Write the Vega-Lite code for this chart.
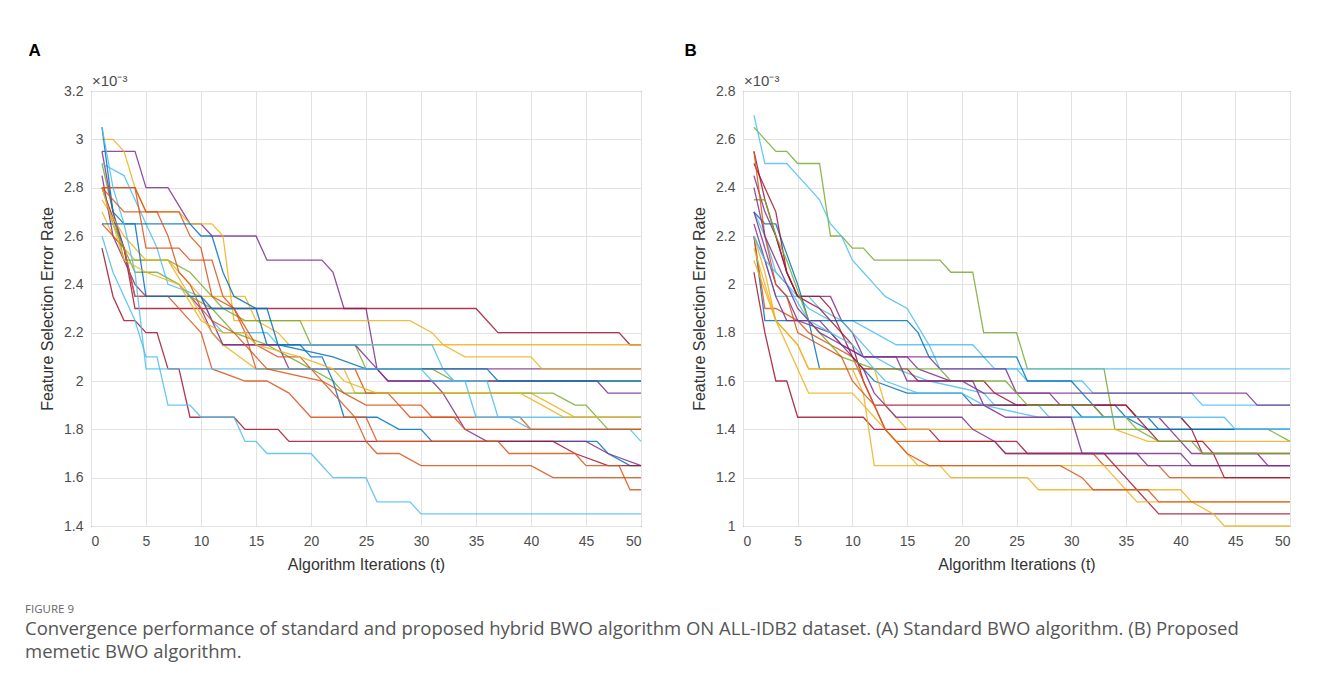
{
"$schema": "https://vega.github.io/schema/vega-lite/v6.json",
"background": "white",
"padding": {"left": 25, "top": 41, "right": 20, "bottom": 10},
"config": {
  "font": "Liberation Sans",
  "view": {"stroke": "#404040", "strokeWidth": 1},
  "axis": {"labelFont": "Liberation Sans", "labelFontSize": 14, "labelColor": "#4d4d4d", "titleFont": "Liberation Sans", "titleFontSize": 16, "titleFontWeight": "normal", "titleColor": "#333333", "gridColor": "#e2e2e2", "gridWidth": 1, "domain": false, "ticks": false, "labelPadding": 8, "titlePadding": 8},
  "concat": {"spacing": 39}
},
"title": {"text": "FIGURE 9", "subtitle": ["Convergence performance of standard and proposed hybrid BWO algorithm ON ALL-IDB2 dataset. (A) Standard BWO algorithm. (B) Proposed", "memetic BWO algorithm."], "orient": "bottom", "anchor": "start", "frame": "bounds", "font": "Open Sans", "fontSize": 11.5, "fontWeight": "normal", "color": "#666666", "subtitleFont": "Open Sans", "subtitleFontSize": 18.5, "subtitleColor": "#555555", "subtitleLineHeight": 23, "subtitlePadding": 5, "offset": 31, "dx": -3},
"datasets": {
"A": [
{"s":"a1","t":1,"v":2.95},{"s":"a1","t":4,"v":2.95},{"s":"a1","t":5,"v":2.8},{"s":"a1","t":7,"v":2.8},{"s":"a1","t":9,"v":2.65},{"s":"a1","t":10,"v":2.65},{"s":"a1","t":11,"v":2.6},{"s":"a1","t":15,"v":2.6},{"s":"a1","t":16,"v":2.5},{"s":"a1","t":21,"v":2.5},{"s":"a1","t":22,"v":2.45},{"s":"a1","t":23,"v":2.3},{"s":"a1","t":25,"v":2.3},{"s":"a1","t":26,"v":2.05},{"s":"a1","t":50,"v":2.05},
{"s":"a2","t":1,"v":2.8},{"s":"a2","t":3,"v":2.55},{"s":"a2","t":4,"v":2.3},{"s":"a2","t":35,"v":2.3},{"s":"a2","t":37,"v":2.2},{"s":"a2","t":48,"v":2.2},{"s":"a2","t":49,"v":2.15},{"s":"a2","t":50,"v":2.15},
{"s":"a3","t":1,"v":3.0},{"s":"a3","t":2,"v":3.0},{"s":"a3","t":3,"v":2.95},{"s":"a3","t":4,"v":2.8},{"s":"a3","t":5,"v":2.7},{"s":"a3","t":8,"v":2.7},{"s":"a3","t":9,"v":2.65},{"s":"a3","t":11,"v":2.65},{"s":"a3","t":12,"v":2.6},{"s":"a3","t":13,"v":2.25},{"s":"a3","t":29,"v":2.25},{"s":"a3","t":31,"v":2.2},{"s":"a3","t":32,"v":2.15},{"s":"a3","t":34,"v":2.1},{"s":"a3","t":40,"v":2.1},{"s":"a3","t":41,"v":2.05},{"s":"a3","t":50,"v":2.05},
{"s":"a4","t":1,"v":2.7},{"s":"a4","t":2,"v":2.6},{"s":"a4","t":3,"v":2.55},{"s":"a4","t":4,"v":2.5},{"s":"a4","t":7,"v":2.5},{"s":"a4","t":9,"v":2.4},{"s":"a4","t":10,"v":2.35},{"s":"a4","t":14,"v":2.35},{"s":"a4","t":15,"v":2.25},{"s":"a4","t":17,"v":2.2},{"s":"a4","t":18,"v":2.15},{"s":"a4","t":50,"v":2.15},
{"s":"a5","t":1,"v":2.9},{"s":"a5","t":2,"v":2.7},{"s":"a5","t":3,"v":2.5},{"s":"a5","t":7,"v":2.5},{"s":"a5","t":9,"v":2.45},{"s":"a5","t":10,"v":2.4},{"s":"a5","t":12,"v":2.3},{"s":"a5","t":14,"v":2.25},{"s":"a5","t":19,"v":2.25},{"s":"a5","t":20,"v":2.15},{"s":"a5","t":24,"v":2.15},{"s":"a5","t":25,"v":2.05},{"s":"a5","t":31,"v":2.05},{"s":"a5","t":33,"v":2.0},{"s":"a5","t":50,"v":2.0},
{"s":"a6","t":1,"v":2.95},{"s":"a6","t":2,"v":2.7},{"s":"a6","t":3,"v":2.55},{"s":"a6","t":4,"v":2.35},{"s":"a6","t":9,"v":2.35},{"s":"a6","t":10,"v":2.3},{"s":"a6","t":11,"v":2.2},{"s":"a6","t":12,"v":2.15},{"s":"a6","t":24,"v":2.15},{"s":"a6","t":26,"v":2.05},{"s":"a6","t":27,"v":2.0},{"s":"a6","t":46,"v":2.0},{"s":"a6","t":47,"v":1.95},{"s":"a6","t":50,"v":1.95},
{"s":"a7","t":1,"v":2.75},{"s":"a7","t":3,"v":2.6},{"s":"a7","t":5,"v":2.5},{"s":"a7","t":7,"v":2.5},{"s":"a7","t":9,"v":2.35},{"s":"a7","t":11,"v":2.2},{"s":"a7","t":12,"v":2.15},{"s":"a7","t":15,"v":2.05},{"s":"a7","t":23,"v":2.05},{"s":"a7","t":24,"v":1.95},{"s":"a7","t":40,"v":1.95},{"s":"a7","t":42,"v":1.9},{"s":"a7","t":44,"v":1.85},{"s":"a7","t":50,"v":1.85},
{"s":"a8","t":1,"v":2.8},{"s":"a8","t":2,"v":2.65},{"s":"a8","t":4,"v":2.45},{"s":"a8","t":6,"v":2.45},{"s":"a8","t":8,"v":2.4},{"s":"a8","t":9,"v":2.35},{"s":"a8","t":11,"v":2.3},{"s":"a8","t":13,"v":2.2},{"s":"a8","t":16,"v":2.15},{"s":"a8","t":18,"v":2.1},{"s":"a8","t":22,"v":2.0},{"s":"a8","t":23,"v":1.95},{"s":"a8","t":42,"v":1.95},{"s":"a8","t":44,"v":1.9},{"s":"a8","t":45,"v":1.9},{"s":"a8","t":47,"v":1.8},{"s":"a8","t":50,"v":1.8},
{"s":"a9","t":1,"v":2.8},{"s":"a9","t":4,"v":2.8},{"s":"a9","t":5,"v":2.7},{"s":"a9","t":8,"v":2.7},{"s":"a9","t":9,"v":2.6},{"s":"a9","t":10,"v":2.55},{"s":"a9","t":11,"v":2.35},{"s":"a9","t":13,"v":2.3},{"s":"a9","t":14,"v":2.2},{"s":"a9","t":15,"v":2.05},{"s":"a9","t":24,"v":2.05},{"s":"a9","t":25,"v":1.95},{"s":"a9","t":27,"v":1.95},{"s":"a9","t":28,"v":1.9},{"s":"a9","t":30,"v":1.9},{"s":"a9","t":31,"v":1.85},{"s":"a9","t":39,"v":1.85},{"s":"a9","t":40,"v":1.8},{"s":"a9","t":50,"v":1.8},
{"s":"a10","t":1,"v":2.9},{"s":"a10","t":3,"v":2.85},{"s":"a10","t":4,"v":2.75},{"s":"a10","t":6,"v":2.55},{"s":"a10","t":7,"v":2.4},{"s":"a10","t":10,"v":2.35},{"s":"a10","t":11,"v":2.25},{"s":"a10","t":12,"v":2.2},{"s":"a10","t":16,"v":2.2},{"s":"a10","t":17,"v":2.15},{"s":"a10","t":31,"v":2.15},{"s":"a10","t":32,"v":2.05},{"s":"a10","t":33,"v":2.0},{"s":"a10","t":36,"v":2.0},{"s":"a10","t":37,"v":1.85},{"s":"a10","t":38,"v":1.85},{"s":"a10","t":40,"v":1.8},{"s":"a10","t":49,"v":1.8},{"s":"a10","t":50,"v":1.75},
{"s":"a11","t":1,"v":3.05},{"s":"a11","t":2,"v":2.7},{"s":"a11","t":3,"v":2.65},{"s":"a11","t":9,"v":2.65},{"s":"a11","t":10,"v":2.6},{"s":"a11","t":11,"v":2.6},{"s":"a11","t":12,"v":2.45},{"s":"a11","t":13,"v":2.35},{"s":"a11","t":15,"v":2.3},{"s":"a11","t":16,"v":2.15},{"s":"a11","t":19,"v":2.15},{"s":"a11","t":20,"v":2.1},{"s":"a11","t":21,"v":2.1},{"s":"a11","t":22,"v":2.0},{"s":"a11","t":23,"v":1.85},{"s":"a11","t":26,"v":1.85},{"s":"a11","t":28,"v":1.8},{"s":"a11","t":30,"v":1.8},{"s":"a11","t":31,"v":1.75},{"s":"a11","t":46,"v":1.75},{"s":"a11","t":47,"v":1.7},{"s":"a11","t":49,"v":1.65},{"s":"a11","t":50,"v":1.65},
{"s":"a12","t":1,"v":2.85},{"s":"a12","t":2,"v":2.6},{"s":"a12","t":4,"v":2.4},{"s":"a12","t":5,"v":2.35},{"s":"a12","t":10,"v":2.35},{"s":"a12","t":12,"v":2.15},{"s":"a12","t":17,"v":2.15},{"s":"a12","t":18,"v":2.05},{"s":"a12","t":26,"v":2.05},{"s":"a12","t":27,"v":2.0},{"s":"a12","t":31,"v":2.0},{"s":"a12","t":32,"v":1.95},{"s":"a12","t":34,"v":1.8},{"s":"a12","t":36,"v":1.75},{"s":"a12","t":45,"v":1.75},{"s":"a12","t":47,"v":1.7},{"s":"a12","t":50,"v":1.65},
{"s":"a13","t":1,"v":2.55},{"s":"a13","t":2,"v":2.35},{"s":"a13","t":3,"v":2.25},{"s":"a13","t":4,"v":2.25},{"s":"a13","t":5,"v":2.2},{"s":"a13","t":6,"v":2.2},{"s":"a13","t":7,"v":2.05},{"s":"a13","t":8,"v":2.05},{"s":"a13","t":9,"v":1.85},{"s":"a13","t":13,"v":1.85},{"s":"a13","t":14,"v":1.8},{"s":"a13","t":17,"v":1.8},{"s":"a13","t":18,"v":1.75},{"s":"a13","t":42,"v":1.75},{"s":"a13","t":44,"v":1.7},{"s":"a13","t":47,"v":1.65},{"s":"a13","t":50,"v":1.65},
{"s":"a14","t":1,"v":2.8},{"s":"a14","t":4,"v":2.8},{"s":"a14","t":5,"v":2.55},{"s":"a14","t":8,"v":2.55},{"s":"a14","t":9,"v":2.5},{"s":"a14","t":11,"v":2.5},{"s":"a14","t":12,"v":2.35},{"s":"a14","t":13,"v":2.3},{"s":"a14","t":15,"v":2.15},{"s":"a14","t":17,"v":2.1},{"s":"a14","t":19,"v":2.1},{"s":"a14","t":20,"v":2.05},{"s":"a14","t":24,"v":1.85},{"s":"a14","t":25,"v":1.75},{"s":"a14","t":26,"v":1.7},{"s":"a14","t":28,"v":1.7},{"s":"a14","t":30,"v":1.65},{"s":"a14","t":40,"v":1.65},{"s":"a14","t":42,"v":1.6},{"s":"a14","t":50,"v":1.6},
{"s":"a15","t":1,"v":2.65},{"s":"a15","t":3,"v":2.55},{"s":"a15","t":4,"v":2.35},{"s":"a15","t":7,"v":2.35},{"s":"a15","t":9,"v":2.25},{"s":"a15","t":10,"v":2.2},{"s":"a15","t":11,"v":2.05},{"s":"a15","t":14,"v":2.0},{"s":"a15","t":16,"v":2.0},{"s":"a15","t":18,"v":1.95},{"s":"a15","t":20,"v":1.85},{"s":"a15","t":25,"v":1.85},{"s":"a15","t":26,"v":1.75},{"s":"a15","t":37,"v":1.75},{"s":"a15","t":38,"v":1.7},{"s":"a15","t":44,"v":1.7},{"s":"a15","t":45,"v":1.65},{"s":"a15","t":48,"v":1.65},{"s":"a15","t":49,"v":1.55},{"s":"a15","t":50,"v":1.55},
{"s":"a16","t":1,"v":2.6},{"s":"a16","t":2,"v":2.45},{"s":"a16","t":4,"v":2.25},{"s":"a16","t":5,"v":2.1},{"s":"a16","t":6,"v":2.1},{"s":"a16","t":7,"v":1.9},{"s":"a16","t":9,"v":1.9},{"s":"a16","t":10,"v":1.85},{"s":"a16","t":13,"v":1.85},{"s":"a16","t":14,"v":1.75},{"s":"a16","t":15,"v":1.75},{"s":"a16","t":16,"v":1.7},{"s":"a16","t":20,"v":1.7},{"s":"a16","t":22,"v":1.6},{"s":"a16","t":25,"v":1.6},{"s":"a16","t":26,"v":1.5},{"s":"a16","t":29,"v":1.5},{"s":"a16","t":30,"v":1.45},{"s":"a16","t":50,"v":1.45},
{"s":"a17","t":1,"v":2.65},{"s":"a17","t":4,"v":2.65},{"s":"a17","t":5,"v":2.35},{"s":"a17","t":10,"v":2.35},{"s":"a17","t":11,"v":2.3},{"s":"a17","t":16,"v":2.3},{"s":"a17","t":17,"v":2.15},{"s":"a17","t":22,"v":2.1},{"s":"a17","t":25,"v":2.05},{"s":"a17","t":36,"v":2.05},{"s":"a17","t":37,"v":2.0},{"s":"a17","t":50,"v":2.0},
{"s":"a18","t":1,"v":3.05},{"s":"a18","t":2,"v":2.8},{"s":"a18","t":3,"v":2.65},{"s":"a18","t":4,"v":2.45},{"s":"a18","t":5,"v":2.05},{"s":"a18","t":30,"v":2.05},{"s":"a18","t":31,"v":2.0},{"s":"a18","t":34,"v":2.0},{"s":"a18","t":35,"v":1.85},{"s":"a18","t":50,"v":1.85},
{"s":"a19","t":1,"v":2.8},{"s":"a19","t":2,"v":2.65},{"s":"a19","t":3,"v":2.5},{"s":"a19","t":5,"v":2.45},{"s":"a19","t":8,"v":2.4},{"s":"a19","t":10,"v":2.25},{"s":"a19","t":12,"v":2.2},{"s":"a19","t":14,"v":2.2},{"s":"a19","t":15,"v":2.15},{"s":"a19","t":19,"v":2.1},{"s":"a19","t":22,"v":2.05},{"s":"a19","t":23,"v":2.0},{"s":"a19","t":26,"v":1.95},{"s":"a19","t":39,"v":1.95},{"s":"a19","t":41,"v":1.9},{"s":"a19","t":43,"v":1.85},{"s":"a19","t":50,"v":1.85},
{"s":"a20","t":1,"v":2.8},{"s":"a20","t":3,"v":2.7},{"s":"a20","t":6,"v":2.7},{"s":"a20","t":7,"v":2.6},{"s":"a20","t":8,"v":2.45},{"s":"a20","t":9,"v":2.4},{"s":"a20","t":10,"v":2.3},{"s":"a20","t":11,"v":2.25},{"s":"a20","t":13,"v":2.2},{"s":"a20","t":15,"v":2.1},{"s":"a20","t":16,"v":2.05},{"s":"a20","t":21,"v":2.0},{"s":"a20","t":23,"v":1.95},{"s":"a20","t":25,"v":1.9},{"s":"a20","t":28,"v":1.9},{"s":"a20","t":29,"v":1.85},{"s":"a20","t":33,"v":1.85},{"s":"a20","t":34,"v":1.8},{"s":"a20","t":50,"v":1.8}
],
"B": [
{"s":"b1","t":1,"v":2.65},{"s":"b1","t":2,"v":2.6},{"s":"b1","t":3,"v":2.55},{"s":"b1","t":4,"v":2.55},{"s":"b1","t":5,"v":2.5},{"s":"b1","t":7,"v":2.5},{"s":"b1","t":8,"v":2.2},{"s":"b1","t":9,"v":2.2},{"s":"b1","t":10,"v":2.15},{"s":"b1","t":11,"v":2.15},{"s":"b1","t":12,"v":2.1},{"s":"b1","t":18,"v":2.1},{"s":"b1","t":19,"v":2.05},{"s":"b1","t":21,"v":2.05},{"s":"b1","t":22,"v":1.8},{"s":"b1","t":25,"v":1.8},{"s":"b1","t":26,"v":1.65},{"s":"b1","t":33,"v":1.65},{"s":"b1","t":34,"v":1.4},{"s":"b1","t":48,"v":1.4},{"s":"b1","t":50,"v":1.35},
{"s":"b2","t":1,"v":2.7},{"s":"b2","t":2,"v":2.5},{"s":"b2","t":4,"v":2.5},{"s":"b2","t":5,"v":2.45},{"s":"b2","t":6,"v":2.4},{"s":"b2","t":7,"v":2.35},{"s":"b2","t":8,"v":2.25},{"s":"b2","t":9,"v":2.2},{"s":"b2","t":10,"v":2.1},{"s":"b2","t":11,"v":2.05},{"s":"b2","t":12,"v":2.0},{"s":"b2","t":13,"v":1.95},{"s":"b2","t":15,"v":1.9},{"s":"b2","t":17,"v":1.75},{"s":"b2","t":21,"v":1.75},{"s":"b2","t":22,"v":1.7},{"s":"b2","t":23,"v":1.65},{"s":"b2","t":25,"v":1.65},{"s":"b2","t":26,"v":1.6},{"s":"b2","t":31,"v":1.6},{"s":"b2","t":32,"v":1.55},{"s":"b2","t":41,"v":1.55},{"s":"b2","t":42,"v":1.5},{"s":"b2","t":50,"v":1.5},
{"s":"b3","t":1,"v":2.3},{"s":"b3","t":2,"v":2.2},{"s":"b3","t":3,"v":2.05},{"s":"b3","t":5,"v":1.95},{"s":"b3","t":6,"v":1.9},{"s":"b3","t":8,"v":1.85},{"s":"b3","t":10,"v":1.85},{"s":"b3","t":12,"v":1.8},{"s":"b3","t":14,"v":1.75},{"s":"b3","t":17,"v":1.75},{"s":"b3","t":18,"v":1.65},{"s":"b3","t":50,"v":1.65},
{"s":"b4","t":1,"v":2.45},{"s":"b4","t":2,"v":2.3},{"s":"b4","t":3,"v":2.2},{"s":"b4","t":4,"v":2.05},{"s":"b4","t":5,"v":1.95},{"s":"b4","t":8,"v":1.95},{"s":"b4","t":9,"v":1.85},{"s":"b4","t":10,"v":1.8},{"s":"b4","t":11,"v":1.7},{"s":"b4","t":17,"v":1.7},{"s":"b4","t":18,"v":1.65},{"s":"b4","t":24,"v":1.65},{"s":"b4","t":25,"v":1.55},{"s":"b4","t":46,"v":1.55},{"s":"b4","t":47,"v":1.5},{"s":"b4","t":50,"v":1.5},
{"s":"b5","t":1,"v":2.2},{"s":"b5","t":2,"v":2.1},{"s":"b5","t":3,"v":1.95},{"s":"b5","t":6,"v":1.95},{"s":"b5","t":7,"v":1.9},{"s":"b5","t":9,"v":1.85},{"s":"b5","t":10,"v":1.8},{"s":"b5","t":11,"v":1.75},{"s":"b5","t":12,"v":1.7},{"s":"b5","t":14,"v":1.65},{"s":"b5","t":17,"v":1.6},{"s":"b5","t":22,"v":1.55},{"s":"b5","t":23,"v":1.5},{"s":"b5","t":27,"v":1.5},{"s":"b5","t":28,"v":1.45},{"s":"b5","t":40,"v":1.45},{"s":"b5","t":41,"v":1.4},{"s":"b5","t":50,"v":1.4},
{"s":"b6","t":1,"v":2.3},{"s":"b6","t":2,"v":2.25},{"s":"b6","t":3,"v":2.25},{"s":"b6","t":5,"v":2.0},{"s":"b6","t":6,"v":1.85},{"s":"b6","t":7,"v":1.65},{"s":"b6","t":11,"v":1.65},{"s":"b6","t":12,"v":1.6},{"s":"b6","t":15,"v":1.55},{"s":"b6","t":20,"v":1.55},{"s":"b6","t":21,"v":1.5},{"s":"b6","t":30,"v":1.5},{"s":"b6","t":31,"v":1.45},{"s":"b6","t":37,"v":1.45},{"s":"b6","t":38,"v":1.4},{"s":"b6","t":50,"v":1.4},
{"s":"b7","t":1,"v":2.2},{"s":"b7","t":2,"v":1.85},{"s":"b7","t":15,"v":1.85},{"s":"b7","t":16,"v":1.8},{"s":"b7","t":17,"v":1.7},{"s":"b7","t":25,"v":1.7},{"s":"b7","t":26,"v":1.6},{"s":"b7","t":30,"v":1.6},{"s":"b7","t":31,"v":1.55},{"s":"b7","t":32,"v":1.5},{"s":"b7","t":34,"v":1.5},{"s":"b7","t":35,"v":1.45},{"s":"b7","t":37,"v":1.4},{"s":"b7","t":50,"v":1.4},
{"s":"b8","t":1,"v":2.55},{"s":"b8","t":2,"v":2.35},{"s":"b8","t":3,"v":2.2},{"s":"b8","t":4,"v":2.05},{"s":"b8","t":5,"v":1.95},{"s":"b8","t":7,"v":1.9},{"s":"b8","t":8,"v":1.85},{"s":"b8","t":10,"v":1.75},{"s":"b8","t":11,"v":1.6},{"s":"b8","t":12,"v":1.5},{"s":"b8","t":35,"v":1.5},{"s":"b8","t":36,"v":1.45},{"s":"b8","t":40,"v":1.45},{"s":"b8","t":41,"v":1.4},{"s":"b8","t":42,"v":1.3},{"s":"b8","t":50,"v":1.3},
{"s":"b9","t":1,"v":2.2},{"s":"b9","t":2,"v":1.9},{"s":"b9","t":3,"v":1.9},{"s":"b9","t":5,"v":1.85},{"s":"b9","t":6,"v":1.8},{"s":"b9","t":8,"v":1.75},{"s":"b9","t":10,"v":1.7},{"s":"b9","t":12,"v":1.5},{"s":"b9","t":13,"v":1.4},{"s":"b9","t":14,"v":1.35},{"s":"b9","t":23,"v":1.35},{"s":"b9","t":24,"v":1.3},{"s":"b9","t":32,"v":1.3},{"s":"b9","t":33,"v":1.25},{"s":"b9","t":38,"v":1.25},{"s":"b9","t":39,"v":1.2},{"s":"b9","t":50,"v":1.2},
{"s":"b10","t":1,"v":2.05},{"s":"b10","t":2,"v":1.8},{"s":"b10","t":3,"v":1.6},{"s":"b10","t":4,"v":1.6},{"s":"b10","t":5,"v":1.45},{"s":"b10","t":11,"v":1.45},{"s":"b10","t":12,"v":1.4},{"s":"b10","t":17,"v":1.4},{"s":"b10","t":18,"v":1.35},{"s":"b10","t":25,"v":1.35},{"s":"b10","t":26,"v":1.3},{"s":"b10","t":33,"v":1.3},{"s":"b10","t":34,"v":1.25},{"s":"b10","t":35,"v":1.2},{"s":"b10","t":36,"v":1.15},{"s":"b10","t":37,"v":1.1},{"s":"b10","t":38,"v":1.05},{"s":"b10","t":50,"v":1.05},
{"s":"b11","t":1,"v":2.2},{"s":"b11","t":2,"v":2.05},{"s":"b11","t":3,"v":1.85},{"s":"b11","t":4,"v":1.8},{"s":"b11","t":5,"v":1.75},{"s":"b11","t":6,"v":1.65},{"s":"b11","t":10,"v":1.65},{"s":"b11","t":11,"v":1.55},{"s":"b11","t":12,"v":1.25},{"s":"b11","t":33,"v":1.25},{"s":"b11","t":34,"v":1.2},{"s":"b11","t":35,"v":1.15},{"s":"b11","t":36,"v":1.1},{"s":"b11","t":50,"v":1.1},
{"s":"b12","t":1,"v":2.15},{"s":"b12","t":2,"v":2.0},{"s":"b12","t":3,"v":1.85},{"s":"b12","t":4,"v":1.75},{"s":"b12","t":5,"v":1.65},{"s":"b12","t":6,"v":1.55},{"s":"b12","t":10,"v":1.55},{"s":"b12","t":11,"v":1.5},{"s":"b12","t":12,"v":1.45},{"s":"b12","t":13,"v":1.4},{"s":"b12","t":15,"v":1.3},{"s":"b12","t":16,"v":1.25},{"s":"b12","t":18,"v":1.25},{"s":"b12","t":19,"v":1.2},{"s":"b12","t":26,"v":1.2},{"s":"b12","t":27,"v":1.15},{"s":"b12","t":40,"v":1.15},{"s":"b12","t":41,"v":1.1},{"s":"b12","t":43,"v":1.05},{"s":"b12","t":44,"v":1.0},{"s":"b12","t":50,"v":1.0},
{"s":"b13","t":1,"v":2.1},{"s":"b13","t":3,"v":1.85},{"s":"b13","t":5,"v":1.75},{"s":"b13","t":6,"v":1.65},{"s":"b13","t":12,"v":1.65},{"s":"b13","t":13,"v":1.5},{"s":"b13","t":14,"v":1.45},{"s":"b13","t":15,"v":1.4},{"s":"b13","t":34,"v":1.4},{"s":"b13","t":37,"v":1.35},{"s":"b13","t":50,"v":1.35},
{"s":"b14","t":1,"v":2.3},{"s":"b14","t":2,"v":2.15},{"s":"b14","t":3,"v":2.0},{"s":"b14","t":4,"v":1.95},{"s":"b14","t":5,"v":1.85},{"s":"b14","t":8,"v":1.8},{"s":"b14","t":10,"v":1.7},{"s":"b14","t":11,"v":1.65},{"s":"b14","t":12,"v":1.55},{"s":"b14","t":13,"v":1.5},{"s":"b14","t":14,"v":1.45},{"s":"b14","t":20,"v":1.45},{"s":"b14","t":21,"v":1.4},{"s":"b14","t":23,"v":1.35},{"s":"b14","t":24,"v":1.3},{"s":"b14","t":40,"v":1.3},{"s":"b14","t":41,"v":1.25},{"s":"b14","t":50,"v":1.25},
{"s":"b15","t":1,"v":2.25},{"s":"b15","t":2,"v":2.1},{"s":"b15","t":3,"v":1.95},{"s":"b15","t":4,"v":1.85},{"s":"b15","t":7,"v":1.85},{"s":"b15","t":9,"v":1.75},{"s":"b15","t":11,"v":1.7},{"s":"b15","t":15,"v":1.7},{"s":"b15","t":16,"v":1.65},{"s":"b15","t":19,"v":1.6},{"s":"b15","t":20,"v":1.6},{"s":"b15","t":22,"v":1.55},{"s":"b15","t":28,"v":1.55},{"s":"b15","t":29,"v":1.5},{"s":"b15","t":32,"v":1.5},{"s":"b15","t":33,"v":1.45},{"s":"b15","t":38,"v":1.45},{"s":"b15","t":40,"v":1.35},{"s":"b15","t":41,"v":1.3},{"s":"b15","t":47,"v":1.3},{"s":"b15","t":48,"v":1.25},{"s":"b15","t":50,"v":1.25},
{"s":"b16","t":1,"v":2.5},{"s":"b16","t":2,"v":2.4},{"s":"b16","t":3,"v":2.3},{"s":"b16","t":4,"v":2.05},{"s":"b16","t":5,"v":1.95},{"s":"b16","t":7,"v":1.95},{"s":"b16","t":8,"v":1.9},{"s":"b16","t":10,"v":1.7},{"s":"b16","t":11,"v":1.65},{"s":"b16","t":15,"v":1.65},{"s":"b16","t":16,"v":1.6},{"s":"b16","t":22,"v":1.6},{"s":"b16","t":23,"v":1.55},{"s":"b16","t":25,"v":1.5},{"s":"b16","t":35,"v":1.5},{"s":"b16","t":36,"v":1.45},{"s":"b16","t":38,"v":1.35},{"s":"b16","t":42,"v":1.35},{"s":"b16","t":43,"v":1.3},{"s":"b16","t":44,"v":1.2},{"s":"b16","t":50,"v":1.2},
{"s":"b17","t":1,"v":2.35},{"s":"b17","t":2,"v":2.35},{"s":"b17","t":3,"v":2.2},{"s":"b17","t":4,"v":2.1},{"s":"b17","t":6,"v":1.85},{"s":"b17","t":8,"v":1.75},{"s":"b17","t":9,"v":1.7},{"s":"b17","t":12,"v":1.65},{"s":"b17","t":18,"v":1.65},{"s":"b17","t":19,"v":1.6},{"s":"b17","t":24,"v":1.6},{"s":"b17","t":25,"v":1.55},{"s":"b17","t":26,"v":1.5},{"s":"b17","t":32,"v":1.5},{"s":"b17","t":33,"v":1.45},{"s":"b17","t":35,"v":1.45},{"s":"b17","t":36,"v":1.4},{"s":"b17","t":38,"v":1.35},{"s":"b17","t":41,"v":1.35},{"s":"b17","t":42,"v":1.3},{"s":"b17","t":50,"v":1.3},
{"s":"b18","t":1,"v":2.55},{"s":"b18","t":2,"v":2.2},{"s":"b18","t":3,"v":2.0},{"s":"b18","t":4,"v":1.95},{"s":"b18","t":5,"v":1.8},{"s":"b18","t":7,"v":1.75},{"s":"b18","t":9,"v":1.7},{"s":"b18","t":10,"v":1.6},{"s":"b18","t":11,"v":1.55},{"s":"b18","t":12,"v":1.5},{"s":"b18","t":13,"v":1.4},{"s":"b18","t":14,"v":1.35},{"s":"b18","t":15,"v":1.3},{"s":"b18","t":17,"v":1.25},{"s":"b18","t":29,"v":1.25},{"s":"b18","t":31,"v":1.2},{"s":"b18","t":32,"v":1.15},{"s":"b18","t":37,"v":1.15},{"s":"b18","t":38,"v":1.1},{"s":"b18","t":50,"v":1.1},
{"s":"b19","t":1,"v":2.2},{"s":"b19","t":2,"v":2.1},{"s":"b19","t":4,"v":2.0},{"s":"b19","t":6,"v":1.85},{"s":"b19","t":8,"v":1.8},{"s":"b19","t":10,"v":1.75},{"s":"b19","t":12,"v":1.65},{"s":"b19","t":13,"v":1.6},{"s":"b19","t":16,"v":1.55},{"s":"b19","t":20,"v":1.55},{"s":"b19","t":22,"v":1.5},{"s":"b19","t":27,"v":1.45},{"s":"b19","t":44,"v":1.45},{"s":"b19","t":45,"v":1.4},{"s":"b19","t":50,"v":1.4},
{"s":"b20","t":1,"v":2.4},{"s":"b20","t":2,"v":2.2},{"s":"b20","t":3,"v":2.1},{"s":"b20","t":5,"v":1.9},{"s":"b20","t":7,"v":1.8},{"s":"b20","t":9,"v":1.75},{"s":"b20","t":11,"v":1.7},{"s":"b20","t":14,"v":1.7},{"s":"b20","t":15,"v":1.6},{"s":"b20","t":21,"v":1.6},{"s":"b20","t":22,"v":1.5},{"s":"b20","t":24,"v":1.45},{"s":"b20","t":30,"v":1.45},{"s":"b20","t":31,"v":1.3},{"s":"b20","t":36,"v":1.3},{"s":"b20","t":37,"v":1.25},{"s":"b20","t":50,"v":1.25}
]
},
"hconcat": [
{
 "width": 550, "height": 435,
 "title": {"text": "A", "anchor": "start", "frame": "bounds", "font": "Liberation Sans", "fontSize": 17, "fontWeight": "bold", "color": "#000000", "dx": -11, "offset": 14},
 "layer": [
  {"data": {"name": "A"}, "mark": {"type": "line", "strokeWidth": 1.3, "opacity": 0.85},
   "encoding": {
    "x": {"field": "t", "type": "quantitative", "scale": {"domain": [0, 50]}, "axis": {"values": [0,5,10,15,20,25,30,35,40,45,50], "title": "Algorithm Iterations (t)"}},
    "y": {"field": "v", "type": "quantitative", "scale": {"domain": [1.4, 3.2]}, "axis": {"values": [1.4,1.6,1.8,2,2.2,2.4,2.6,2.8,3,3.2], "format": "~g", "title": "Feature Selection Error Rate"}},
    "color": {"field": "s", "type": "nominal", "legend": null, "scale": {"domain": ["a1","a2","a3","a4","a5","a6","a7","a8","a9","a10","a11","a12","a13","a14","a15","a16","a17","a18","a19","a20","b1","b2","b3","b4","b5","b6","b7","b8","b9","b10","b11","b12","b13","b14","b15","b16","b17","b18","b19","b20"], "range": ["#7E2F8E","#A2142F","#EDB120","#EDB120","#77AC30","#7E2F8E","#EDB120","#77AC30","#D95319","#4DBEEE","#0072BD","#7E2F8E","#A2142F","#D95319","#D95319","#4DBEEE","#0072BD","#4DBEEE","#EDB120","#D95319","#77AC30","#4DBEEE","#4DBEEE","#7E2F8E","#4DBEEE","#0072BD","#0072BD","#A2142F","#D95319","#A2142F","#EDB120","#EDB120","#EDB120","#7E2F8E","#7E2F8E","#A2142F","#77AC30","#D95319","#4DBEEE","#7E2F8E"]}}
   }},
  {"data": {"values": [{"t": 0, "v": 3.2, "lab": "×10⁻³"}]}, "mark": {"type": "text", "align": "left", "baseline": "bottom", "dx": 1, "dy": -2, "fontSize": 15, "color": "#4d4d4d"},
   "encoding": {"x": {"field": "t", "type": "quantitative"}, "y": {"field": "v", "type": "quantitative"}, "text": {"field": "lab"}}}
 ]
},
{
 "width": 547, "height": 435,
 "title": {"text": "B", "anchor": "start", "frame": "bounds", "font": "Liberation Sans", "fontSize": 17, "fontWeight": "bold", "color": "#000000", "dx": -7, "offset": 14},
 "layer": [
  {"data": {"name": "B"}, "mark": {"type": "line", "strokeWidth": 1.3, "opacity": 0.85},
   "encoding": {
    "x": {"field": "t", "type": "quantitative", "scale": {"domain": [0, 50]}, "axis": {"values": [0,5,10,15,20,25,30,35,40,45,50], "title": "Algorithm Iterations (t)"}},
    "y": {"field": "v", "type": "quantitative", "scale": {"domain": [1, 2.8]}, "axis": {"values": [1,1.2,1.4,1.6,1.8,2,2.2,2.4,2.6,2.8], "format": "~g", "title": "Feature Selection Error Rate"}},
    "color": {"field": "s", "type": "nominal", "legend": null}
   }},
  {"data": {"values": [{"t": 0, "v": 2.8, "lab": "×10⁻³"}]}, "mark": {"type": "text", "align": "left", "baseline": "bottom", "dx": 1, "dy": -2, "fontSize": 15, "color": "#4d4d4d"},
   "encoding": {"x": {"field": "t", "type": "quantitative"}, "y": {"field": "v", "type": "quantitative"}, "text": {"field": "lab"}}}
 ]
}
]
}
